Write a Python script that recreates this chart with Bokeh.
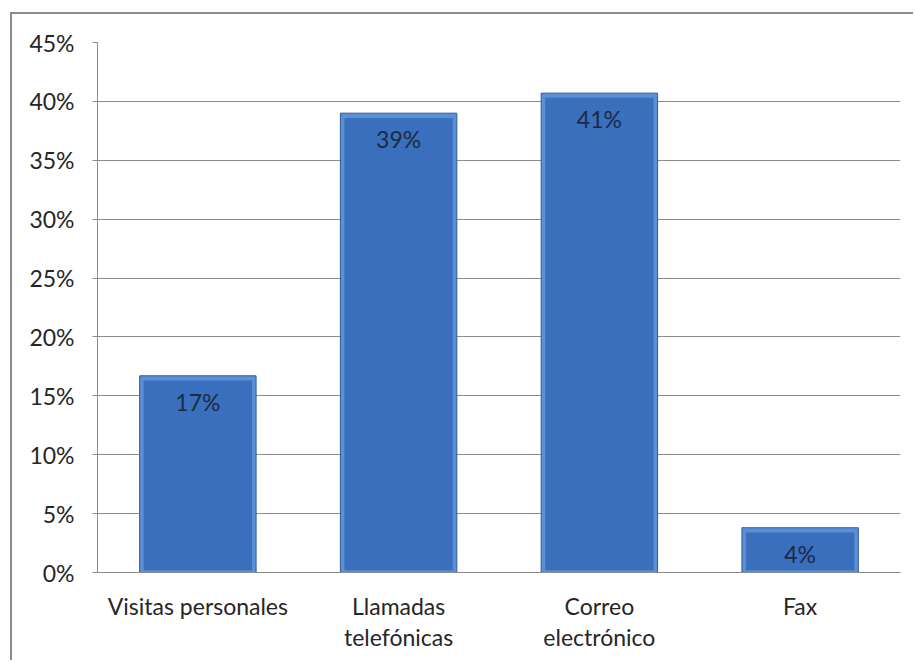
from bokeh.plotting import figure
from bokeh.models import ColumnDataSource, NumeralTickFormatter, Range1d, FixedTicker, LinearAxis
from bokeh.core.properties import value
from bokeh.embed import file_html
from bokeh.resources import INLINE

categories = ["Visitas personales", "Llamadas telefónicas", "Correo electrónico", "Fax"]
axis_labels = ["Visitas personales", "Llamadas\ntelefónicas", "Correo\nelectrónico", "Fax"]
shares = [0.167, 0.390, 0.407, 0.038]
y_ticks = [0.0, 0.05, 0.10, 0.15, 0.20, 0.25, 0.30, 0.35, 0.40, 0.45]

FONT = "Lato"
FS = "23px"

pos = list(range(len(categories)))

src = ColumnDataSource(dict(
    x=pos,
    cat=categories,
    val=shares,
    inner=[max(v - 0.004, 0) for v in shares],
    lab=[f"{round(v * 100)}%" for v in shares],
))

p = figure(
    x_range=Range1d(-0.5, len(categories) - 0.5),
    y_range=Range1d(0, 0.45),
    width=903, height=648,
    output_backend="svg", toolbar_location=None,
    min_border_left=85, min_border_right=15, min_border_top=28, min_border_bottom=90,
)
p.margin = (12, 0, 0, 10)
p.styles = {"border-left": "2px solid #8c8c8c", "border-top": "2px solid #8c8c8c"}

p.outline_line_color = None
p.background_fill_color = "white"
p.border_fill_color = "white"

# bar with lighter bevel rim
p.vbar(x="x", top="val", width=0.58, source=src,
       fill_color="#5b8fd6", line_color="#2f5a96", line_width=1)
p.vbar(x="x", top="inner", bottom=0.002, width=0.54, source=src,
       fill_color="#3a6fbd", line_color=None)
p.text(x="x", y="val", text="lab", source=src,
       text_align="center", text_baseline="top", y_offset=12,
       text_font=value(FONT), text_font_size=FS, text_color="#1c2a45")

p.yaxis.ticker = FixedTicker(ticks=y_ticks)
p.yaxis.formatter = NumeralTickFormatter(format="0%")
p.yaxis.axis_line_color = "#8c8c8c"
p.yaxis.major_tick_line_color = "#8c8c8c"
p.yaxis.major_tick_out = 5
p.yaxis.major_tick_in = 0
p.yaxis.minor_tick_line_color = None
p.yaxis.major_label_standoff = 18
p.yaxis.major_label_text_font = FONT
p.yaxis.major_label_text_font_size = FS
p.yaxis.major_label_text_color = "#262626"

lines = [lab.split("\n") for lab in axis_labels]
first = {xi: ln[0] for xi, ln in zip(pos, lines)}
second = {xi: (ln[1] if len(ln) > 1 else "") for xi, ln in zip(pos, lines)}

xa = p.xaxis[0]
xa.ticker = FixedTicker(ticks=pos)
xa.major_label_overrides = first
xa.axis_line_color = "#8c8c8c"
xa.major_tick_line_color = None
xa.major_tick_out = 0
xa.major_tick_in = 0
xa.minor_tick_line_color = None
xa.major_label_standoff = 19
xa.major_label_text_font = FONT
xa.major_label_text_font_size = FS
xa.major_label_text_color = "#262626"

xa2 = LinearAxis(ticker=FixedTicker(ticks=pos), major_label_overrides=second)
xa2.axis_line_color = None
xa2.major_tick_line_color = None
xa2.major_tick_out = 0
xa2.major_tick_in = 0
xa2.minor_tick_line_color = None
xa2.major_label_standoff = 0
xa2.major_label_text_font = FONT
xa2.major_label_text_font_size = FS
xa2.major_label_text_color = "#262626"
p.add_layout(xa2, "below")

p.xgrid.grid_line_color = None
p.ygrid.grid_line_color = "#8c8c8c"
p.ygrid.grid_line_width = 1

open("out.html", "w").write(file_html(p, INLINE))
